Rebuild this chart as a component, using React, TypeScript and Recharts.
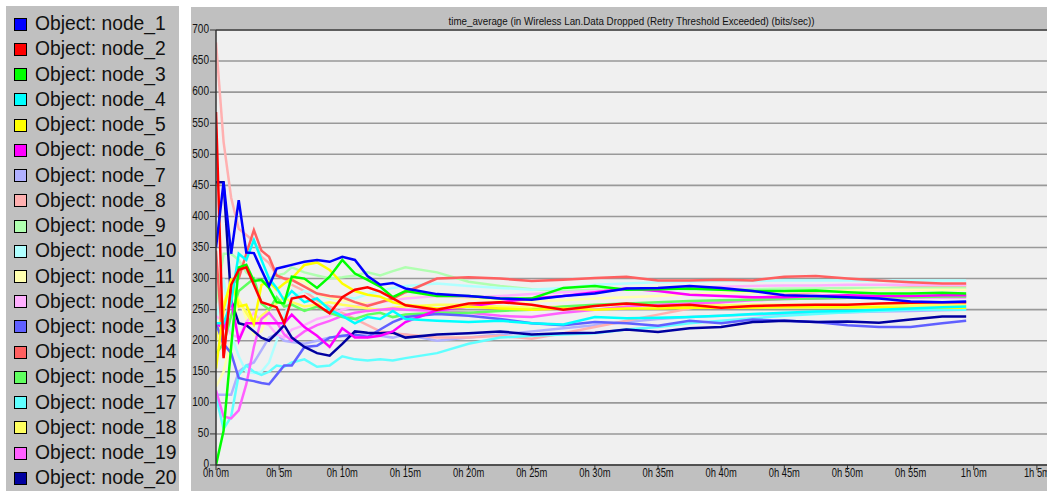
import React from "react";
import { LineChart, Line, XAxis, YAxis, CartesianGrid, ReferenceLine } from "recharts";

// time in minutes
const TIMES = [0, 0.6, 1.2, 1.8, 2.4, 3, 3.6, 4.2, 4.8, 5.4, 6, 7, 8, 9, 10, 11, 12, 13, 14, 15, 17.5, 20, 22.5, 25, 27.5, 30, 32.5, 35, 37.5, 40, 42.5, 45, 47.5, 50, 52.5, 55, 57.5, 59.4];

const NODE_NAMES = ["node_1", "node_2", "node_3", "node_4", "node_5", "node_6", "node_7", "node_8", "node_9", "node_10", "node_11", "node_12", "node_13", "node_14", "node_15", "node_17", "node_18", "node_19", "node_20"];
const NODE_COLORS = ["#0000ff", "#ff0000", "#00ff00", "#00ffff", "#ffff00", "#ff00ff", "#b0b0ff", "#ffb0b0", "#b0ffb0", "#b0ffff", "#ffffb0", "#ffb0ff", "#6060ff", "#ff6060", "#60ff60", "#60ffff", "#ffff60", "#ff60ff", "#0000a0"];

const node_1 = [350, 455, 340, 426, 342, 341, 314, 288, 316, 319, 322, 327, 330, 327, 335, 330, 304, 290, 293, 284, 275, 272, 268, 266, 272, 276, 284, 285, 288, 285, 280, 273, 272, 270, 268, 263, 262, 263];
const node_2 = [568, 172, 290, 314, 318, 290, 262, 258, 254, 228, 268, 272, 258, 244, 270, 282, 286, 279, 268, 257, 250, 260, 262, 258, 250, 256, 260, 256, 258, 253, 256, 257, 258, 258, 260, 261, 262, 262];
const node_3 = [0, 55, 190, 318, 322, 296, 298, 285, 262, 260, 303, 300, 285, 303, 330, 308, 298, 287, 270, 280, 272, 272, 268, 268, 285, 288, 282, 283, 284, 282, 280, 280, 281, 278, 276, 276, 277, 276];
const node_4 = [228, 228, 262, 340, 330, 362, 330, 300, 285, 265, 280, 262, 268, 250, 240, 228, 238, 235, 248, 235, 232, 230, 232, 228, 226, 238, 236, 237, 238, 240, 243, 245, 247, 248, 250, 252, 254, 255];
const node_5 = [155, 250, 300, 255, 258, 228, 290, 295, 282, 292, 300, 322, 326, 314, 292, 280, 274, 271, 262, 258, 252, 255, 252, 250, 252, 250, 252, 252, 253, 253, 253, 254, 254, 254, 254, 253, 253, 253];
const node_6 = [228, 220, 265, 200, 228, 228, 228, 228, 228, 228, 242, 222, 208, 190, 220, 205, 205, 208, 215, 230, 249, 255, 262, 268, 272, 278, 284, 280, 274, 272, 270, 270, 272, 273, 272, 272, 273, 273];
const node_7 = [113, 113, 113, 150, 160, 165, 185, 205, 210, 200, 198, 195, 200, 205, 207, 208, 210, 208, 205, 210, 200, 205, 210, 215, 220, 225, 230, 235, 238, 240, 242, 243, 245, 246, 247, 248, 249, 250];
const node_8 = [680, 520, 430, 380, 370, 360, 335, 325, 305, 300, 290, 280, 265, 255, 245, 235, 225, 215, 212, 210, 205, 205, 208, 203, 212, 222, 232, 242, 252, 262, 268, 274, 278, 282, 284, 286, 287, 288];
const node_9 = [260, 340, 340, 330, 310, 300, 295, 300, 305, 308, 318, 310, 305, 300, 302, 305, 310, 305, 312, 318, 310, 295, 288, 283, 280, 282, 284, 285, 283, 282, 283, 284, 284, 285, 285, 285, 285, 285];
const node_10 = [230, 300, 210, 175, 150, 148, 150, 165, 200, 240, 270, 280, 275, 268, 270, 268, 275, 280, 285, 288, 292, 288, 285, 282, 285, 290, 292, 294, 295, 296, 296, 297, 297, 297, 297, 297, 297, 297];
const node_11 = [126, 150, 200, 270, 235, 210, 215, 250, 265, 255, 300, 295, 275, 270, 265, 262, 260, 262, 268, 270, 272, 268, 265, 263, 265, 268, 270, 272, 275, 277, 278, 279, 280, 281, 282, 282, 282, 282];
const node_12 = [240, 230, 210, 205, 230, 245, 230, 225, 210, 205, 218, 225, 235, 240, 250, 255, 258, 262, 265, 268, 272, 270, 272, 275, 278, 280, 282, 284, 286, 287, 288, 289, 289, 290, 290, 290, 290, 290];
const node_13 = [228, 195, 180, 140, 137, 135, 132, 130, 145, 160, 160, 190, 192, 205, 208, 210, 206, 218, 230, 238, 243, 240, 235, 228, 225, 230, 228, 224, 232, 228, 234, 232, 230, 225, 222, 222, 228, 232];
const node_14 = [345, 175, 290, 300, 340, 378, 345, 335, 305, 300, 298, 287, 276, 272, 270, 262, 256, 262, 268, 278, 300, 302, 300, 296, 298, 301, 303, 297, 297, 298, 297, 303, 304, 300, 297, 294, 292, 292];
const node_15 = [180, 195, 240, 280, 290, 300, 260, 250, 270, 255, 258, 248, 255, 245, 238, 235, 242, 245, 238, 242, 245, 245, 248, 250, 255, 258, 260, 262, 264, 265, 266, 267, 268, 269, 270, 270, 271, 271];
const node_17 = [110, 58, 78, 145, 160, 150, 145, 150, 160, 158, 165, 170, 158, 160, 175, 170, 168, 170, 168, 172, 180, 195, 205, 208, 210, 212, 218, 222, 228, 232, 236, 240, 243, 246, 248, 250, 250, 250];
const node_18 = [200, 260, 290, 265, 245, 225, 240, 250, 260, 270, 262, 255, 258, 262, 258, 255, 252, 250, 253, 255, 258, 258, 255, 253, 255, 257, 258, 257, 256, 257, 258, 258, 258, 258, 258, 258, 258, 258];
const node_19 = [120, 78, 75, 88, 130, 190, 235, 245, 230, 210, 200, 215, 225, 232, 240, 245, 248, 250, 252, 250, 248, 245, 240, 238, 245, 250, 255, 258, 260, 262, 265, 267, 268, 269, 270, 270, 270, 270];
const node_20 = [455, 455, 265, 228, 225, 215, 205, 200, 212, 225, 205, 190, 180, 176, 195, 215, 213, 212, 213, 205, 210, 212, 215, 210, 212, 213, 218, 214, 220, 222, 230, 232, 230, 231, 229, 234, 239, 239];

const SERIES = [node_1, node_2, node_3, node_4, node_5, node_6, node_7, node_8, node_9, node_10, node_11, node_12, node_13, node_14, node_15, node_17, node_18, node_19, node_20];

const X_TICKS = [0, 5, 10, 15, 20, 25, 30, 35, 40, 45, 50, 55, 60, 65];
const Y_TICKS = [0, 50, 100, 150, 200, 250, 300, 350, 400, 450, 500, 550, 600, 650, 700];
const TITLE = "time_average (in Wireless Lan.Data Dropped (Retry Threshold Exceeded) (bits/sec))";

// drawing order: light colours first, saturated last
const DRAW_ORDER = [6, 7, 8, 9, 10, 11, 15, 16, 17, 14, 13, 12, 18, 5, 4, 3, 2, 1, 0];

const data = TIMES.map((t, i) => {
  const row: Record<string, number> = { t };
  NODE_NAMES.forEach((n, k) => {
    row[n] = SERIES[k][i];
  });
  return row;
});

const fmtTime = (m: number) => `${Math.floor(m / 60)}h ${m % 60}m`;

const FONT = "'Liberation Sans', Arial, sans-serif";

const XTick = (props: any) => {
  const { x, y, payload } = props;
  return (
    <text
      x={0}
      y={0}
      transform={`translate(${x},${y + 1}) scale(0.78,1)`}
      textAnchor="middle"
      dominantBaseline="central"
      fontSize={12}
      fontFamily={FONT}
      fill="#111"
    >
      {fmtTime(payload.value)}
    </text>
  );
};

const YTick = (props: any) => {
  const { x, y, payload } = props;
  return (
    <text
      x={0}
      y={0}
      transform={`translate(${x},${y - 1}) scale(0.84,1)`}
      textAnchor="end"
      dominantBaseline="central"
      fontSize={12}
      fontFamily={FONT}
      fill="#111"
    >
      {payload.value}
    </text>
  );
};

export default function App() {
  return (
    <div style={{ position: "absolute", left: 0, top: 0, width: 1047, height: 491, background: "#ffffff", overflow: "hidden" }}>
      {/* legend panel */}
      <div style={{ position: "absolute", left: 6, top: 6, width: 173, height: 485, background: "#c0c0c0" }}>
        {NODE_NAMES.map((n, i) => {
          const cy = 17.6 + 25.24 * i;
          return (
            <div key={n}>
              <div
                style={{
                  position: "absolute",
                  left: 8,
                  top: cy - 6,
                  width: 11,
                  height: 11,
                  border: "1px solid #000",
                  background: NODE_COLORS[i],
                }}
              />
              <div
                style={{
                  position: "absolute",
                  left: 29,
                  top: cy - 12.5,
                  height: 25,
                  lineHeight: "25px",
                  fontSize: 19.3,
                  fontFamily: FONT,
                  color: "#111",
                  whiteSpace: "nowrap",
                }}
              >
                {`Object: ${n}`}
              </div>
            </div>
          );
        })}
      </div>
      {/* chart panel */}
      <div style={{ position: "absolute", left: 191, top: 7, width: 856, height: 484, background: "#c0c0c0" }}>
        <div
          style={{
            position: "absolute",
            left: 25,
            width: 831,
            top: 7,
            height: 14,
            lineHeight: "14px",
            textAlign: "center",
            fontSize: 11.5,
            fontFamily: FONT,
            color: "#111",
            whiteSpace: "nowrap",
            transform: "scaleX(0.85)",
            transformOrigin: "center",
          }}
        >
          {TITLE}
        </div>
        <LineChart width={856} height={484} data={data} margin={{ top: 23, right: 0, bottom: 6, left: 0 }}>
          <CartesianGrid vertical={false} horizontal={true} fill="#f0f0f0" stroke="#999999" strokeWidth={1.6} />
          <XAxis
            dataKey="t"
            type="number"
            domain={[0, 65.8]}
            ticks={X_TICKS}
            interval={0}
            allowDataOverflow
            height={20}
            tickSize={5}
            tickMargin={2}
            tick={<XTick />}
            axisLine={{ stroke: "#333", strokeWidth: 1.5 }}
            tickLine={{ stroke: "#333" }}
          />
          <YAxis
            type="number"
            domain={[0, 700]}
            ticks={Y_TICKS}
            interval={0}
            width={25}
            tickSize={6}
            tickMargin={1}
            tick={<YTick />}
            axisLine={{ stroke: "#333", strokeWidth: 1.5 }}
            tickLine={{ stroke: "#333" }}
          />
          <ReferenceLine y={700} stroke="#444" strokeWidth={1.5} />
          {DRAW_ORDER.map((k) => (
            <Line
              key={NODE_NAMES[k]}
              type="linear"
              dataKey={NODE_NAMES[k]}
              stroke={NODE_COLORS[k]}
              strokeWidth={2.5}
              dot={false}
              activeDot={false}
              isAnimationActive={false}
            />
          ))}
        </LineChart>
      </div>
    </div>
  );
}
